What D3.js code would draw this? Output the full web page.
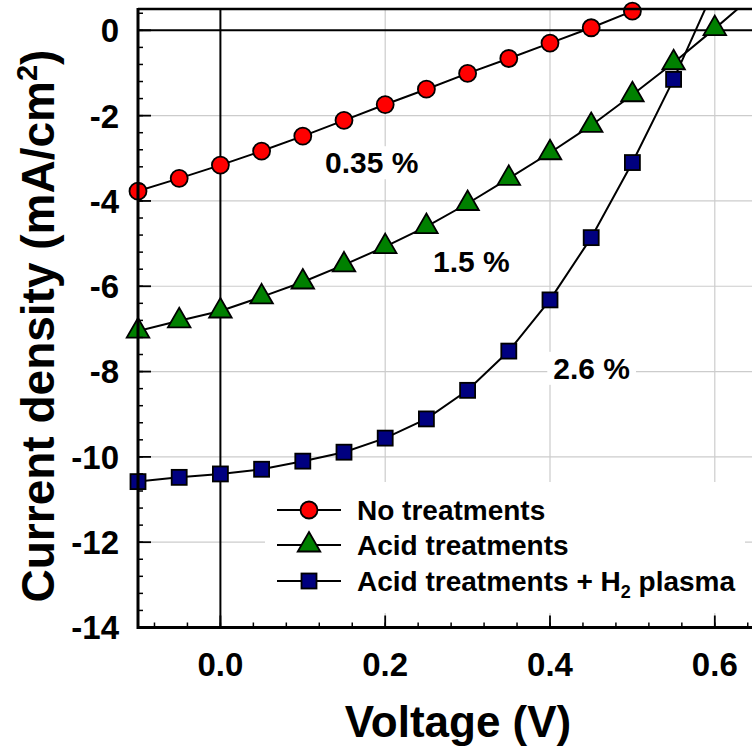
<!DOCTYPE html>
<html>
<head>
<meta charset="utf-8">
<script src="https://cdn.jsdelivr.net/npm/d3@7"></script>
<style>
  body { margin: 0; background: #fff; }
  text { font-family: Arial, "Liberation Sans", sans-serif; font-weight: bold; fill: #000; }
</style>
</head>
<body>
<svg class="jv-chart"></svg>
<script>
// J-V curves, values
var voltage = [-0.1, -0.05, 0, 0.05, 0.1, 0.15, 0.2, 0.25, 0.3, 0.35, 0.4, 0.45, 0.5, 0.55, 0.6];
var noTreatments = [-3.77, -3.47, -3.16, -2.83, -2.48, -2.11, -1.74, -1.38, -1.01, -0.66, -0.30, 0.06, 0.45];
var acidTreatments = [-7.05, -6.81, -6.58, -6.25, -5.90, -5.50, -5.07, -4.60, -4.06, -3.47, -2.87, -2.23, -1.51, -0.76, 0.04];
var acidH2Plasma = [-10.58, -10.48, -10.40, -10.29, -10.10, -9.89, -9.56, -9.11, -8.44, -7.52, -6.32, -4.86, -3.10, -1.15];
// line continues past the last marker (clipped at the frame)
var tailVoltage = [null, 0.65, 0.6];
var tailCurrent = [null, 0.87, 1.0];

var seriesNames = ["No treatments", "Acid treatments", "Acid treatments + H"];
var seriesFill = ["#ff0000", "#008000", "#000080"];
// efficiency labels, anchored at their left/baseline
var effLabels = ["0.35 %", "1.5 %", "2.6 %"];
var effVoltage = [0.127, 0.258, 0.404];
var effCurrent = [-3.35, -5.66, -8.17];

var xTicks = [0.0, 0.2, 0.4, 0.6];
var yTicks = [0, -2, -4, -6, -8, -10, -12, -14];

drawChart();

function drawChart() {
  var width = 752, height = 749;
  var pLeft = 138, pRight = 756, pTop = 9, pBottom = 627.5;

  var x = d3.scaleLinear().domain([-0.1, 0.65]).range([pLeft, pRight]);
  var y = d3.scaleLinear().domain([-14, 0.5]).range([pBottom, pTop]);

  var svg = d3.select(".jv-chart").attr("width", width).attr("height", height);

  svg.append("defs").append("clipPath").attr("id", "plotClip")
    .append("rect").attr("x", pLeft).attr("y", pTop).attr("width", pRight - pLeft).attr("height", pBottom - pTop);

  // grid
  svg.append("g").selectAll("line").data(xTicks.filter(function(d) { return d > 0; }))
    .enter().append("line")
    .attr("x1", function(d) { return x(d); }).attr("x2", function(d) { return x(d); })
    .attr("y1", pTop).attr("y2", pBottom)
    .attr("stroke", "#cccccc").attr("stroke-width", 1.2);
  svg.append("g").selectAll("line").data(yTicks.filter(function(d) { return d < 0 && d > -14; }))
    .enter().append("line")
    .attr("x1", pLeft).attr("x2", pRight)
    .attr("y1", function(d) { return y(d); }).attr("y2", function(d) { return y(d); })
    .attr("stroke", "#cccccc").attr("stroke-width", 1.2);

  // legend box hides the grid behind it
  svg.append("rect").attr("x", 265).attr("y", 482).attr("width", 480).attr("height", 131).attr("fill", "#fff");

  // zero lines
  svg.append("line").attr("x1", x(0)).attr("x2", x(0)).attr("y1", pTop).attr("y2", pBottom)
    .attr("stroke", "#000").attr("stroke-width", 2);
  svg.append("line").attr("x1", pLeft).attr("x2", pRight).attr("y1", y(0)).attr("y2", y(0))
    .attr("stroke", "#000").attr("stroke-width", 2);

  // efficiency labels with white boxes
  var eff = svg.append("g");
  effLabels.forEach(function(t, i) {
    var txt = eff.append("text").attr("x", x(effVoltage[i])).attr("y", y(effCurrent[i]))
      .attr("font-size", 30).text(t);
    var b = txt.node().getBBox();
    eff.insert("rect", "text").attr("x", b.x - 6).attr("y", b.y).attr("width", b.width + 12)
      .attr("height", b.height).attr("fill", "#fff");
  });

  // curves
  var line = d3.line().x(function(d) { return x(d[0]); }).y(function(d) { return y(d[1]); });
  var allSeries = [noTreatments, acidTreatments, acidH2Plasma];
  var plot = svg.append("g");
  allSeries.forEach(function(vals, i) {
    var pts = vals.map(function(v, k) { return [voltage[k], v]; });
    if (tailVoltage[i] !== null) pts.push([tailVoltage[i], tailCurrent[i]]);
    plot.append("path").datum(pts).attr("d", line).attr("clip-path", "url(#plotClip)")
      .attr("fill", "none").attr("stroke", "#000").attr("stroke-width", 2);
  });

  function drawMarker(g, i, cx, cy) {
    if (i === 0) {
      g.append("circle").attr("cx", cx).attr("cy", cy).attr("r", 8.5)
        .attr("fill", seriesFill[0]).attr("stroke", "#000").attr("stroke-width", 1.8);
    } else if (i === 1) {
      g.append("path").attr("d", d3.symbol().type(d3.symbolTriangle).size(220)())
        .attr("transform", "translate(" + cx + "," + cy + ")")
        .attr("fill", seriesFill[1]).attr("stroke", "#000").attr("stroke-width", 1.8);
    } else {
      g.append("rect").attr("x", cx - 7.5).attr("y", cy - 7.5).attr("width", 15).attr("height", 15)
        .attr("fill", seriesFill[2]).attr("stroke", "#000").attr("stroke-width", 1.8);
    }
  }

  allSeries.forEach(function(vals, i) {
    vals.forEach(function(v, k) { drawMarker(plot, i, x(voltage[k]), y(v)); });
  });

  // axes frame and ticks
  var xMinor = d3.range(-0.08, 0.65, 0.04);
  var yMinor = d3.range(-14, 0.5, 0.4);
  var axes = svg.append("g").attr("stroke", "#000");
  axes.selectAll(".xm").data(xMinor).enter().append("line")
    .attr("x1", function(d) { return x(d); }).attr("x2", function(d) { return x(d); })
    .attr("y1", pBottom).attr("y2", pBottom - 5).attr("stroke-width", 1.5);
  axes.selectAll(".xM").data(xTicks).enter().append("line")
    .attr("x1", function(d) { return x(d); }).attr("x2", function(d) { return x(d); })
    .attr("y1", pBottom).attr("y2", pBottom - 12).attr("stroke-width", 1.8);
  axes.selectAll(".ym").data(yMinor).enter().append("line")
    .attr("x1", pLeft).attr("x2", pLeft + 5)
    .attr("y1", function(d) { return y(d); }).attr("y2", function(d) { return y(d); }).attr("stroke-width", 1.5);
  axes.selectAll(".yM").data(yTicks).enter().append("line")
    .attr("x1", pLeft).attr("x2", pLeft + 13)
    .attr("y1", function(d) { return y(d); }).attr("y2", function(d) { return y(d); }).attr("stroke-width", 1.8);
  axes.append("line").attr("x1", pLeft).attr("x2", pRight).attr("y1", pBottom).attr("y2", pBottom).attr("stroke-width", 3);
  axes.append("line").attr("x1", pLeft).attr("x2", pLeft).attr("y1", pTop - 1).attr("y2", pBottom + 1.5).attr("stroke-width", 3);
  axes.append("line").attr("x1", pLeft).attr("x2", pRight).attr("y1", pTop).attr("y2", pTop).attr("stroke-width", 2.5);

  // tick labels
  svg.append("g").selectAll("text").data(xTicks).enter().append("text")
    .attr("x", function(d) { return x(d); }).attr("y", 676)
    .attr("text-anchor", "middle").attr("font-size", 33)
    .text(function(d) { return d3.format(".1f")(d); });
  svg.append("g").selectAll("text").data(yTicks).enter().append("text")
    .attr("x", 119).attr("y", function(d) { return y(d); }).attr("dy", "0.36em")
    .attr("text-anchor", "end").attr("font-size", 33)
    .text(function(d) { return d; });

  // axis titles
  svg.append("text").attr("x", 458).attr("y", 737).attr("text-anchor", "middle")
    .attr("font-size", 44).text("Voltage (V)");
  var yTitle = svg.append("text").attr("transform", "translate(54,326) rotate(-90)")
    .attr("text-anchor", "middle").attr("font-size", 46);
  yTitle.append("tspan").text("Current density (mA/cm");
  yTitle.append("tspan").attr("font-size", 29).attr("dy", -17).text("2");
  yTitle.append("tspan").attr("dy", 17).text(")");

  // legend
  var rowY = [510, 545, 581];
  var legend = svg.append("g");
  seriesNames.forEach(function(name, i) {
    legend.append("line").attr("x1", 277).attr("x2", 341).attr("y1", rowY[i]).attr("y2", rowY[i])
      .attr("stroke", "#000").attr("stroke-width", 2);
    drawMarker(legend, i, 309, rowY[i]);
    var t = legend.append("text").attr("x", 357).attr("y", rowY[i] + 10).attr("font-size", 28).text(name);
    if (i === 2) {
      t.append("tspan").attr("font-size", 18).attr("dy", 7).text("2");
      t.append("tspan").attr("dy", -7).text(" plasma");
    }
  });
}
</script>
</body>
</html>
